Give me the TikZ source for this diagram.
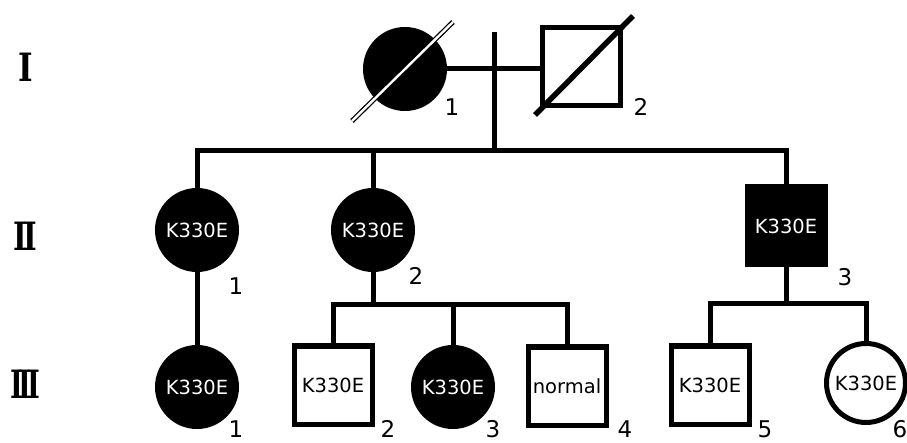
\documentclass[tikz,border=0pt]{standalone}
\usepackage{fontspec}
\newfontfamily\lab{DejaVu Sans}
\newfontfamily\genfont{DejaVu Serif}
\begin{document}
\begin{tikzpicture}[x=1pt,y=-1pt,
  lw/.style={line width=5pt},
  person/.style={lw,draw=black,inner sep=0pt,font=\lab\fontsize{19.5}{19.5}\selectfont},
  female/.style={person,circle,minimum size=79pt},
  male/.style={person,rectangle,minimum size=78pt},
  affected/.style={fill=black,text=white},
  idnum/.style={font=\lab\fontsize{23}{23}\selectfont,inner sep=0pt},
  gen/.style={font=\genfont\bfseries\fontsize{39}{39}\selectfont,inner sep=0pt},
  conn/.style={lw,line join=miter}]
\useasboundingbox (0,0) rectangle (907,443);

% generation labels
\node[gen] (gI) at (26,67) {\scalebox{0.8}[1]{I}};
\node[gen] (gII) at (25,236) {\scalebox{0.75}[1]{I\kern-5pt I}};
\node[gen] (gIII) at (25,384) {\scalebox{0.7}[1]{I\kern-6pt I\kern-6pt I}};

% generation I
\node[female,affected] (I1) at (405,69) {};
\node[male] (I2) at (581,67) {};
\draw[line width=1.3pt,double=white,double distance=2.4pt] (352,121) -- (453,22);
\draw[line width=5.5pt] (535,115) -- (633,16);
\node[idnum] (nI1) at (452,107) {1};
\node[idnum] (nI2) at (641,107) {2};

% generation II
\node[female,affected] (II1) at (197,230) {K330E};
\node[female,affected] (II2) at (373,230) {K330E};
\node[male,affected] (II3) at (786,226) {K330E};
\node[idnum] (nII1) at (236,286) {1};
\node[idnum] (nII2) at (416,276) {2};
\node[idnum] (nII3) at (845,277) {3};

% generation III
\node[female,affected] (III1) at (197,387) {K330E};
\node[male] (III2) at (333,385) {K330E};
\node[female,affected] (III3) at (453,387) {K330E};
\node[male] (III4) at (567,386) {normal};
\node[male] (III5) at (710,385) {K330E};
\node[female] (III6) at (866,383) {K330E};
\node[idnum] (nIII1) at (236,429) {1};
\node[idnum] (nIII2) at (388,429) {2};
\node[idnum] (nIII3) at (493,429) {3};
\node[idnum] (nIII4) at (625,429) {4};
\node[idnum] (nIII5) at (765,429) {5};
\node[idnum] (nIII6) at (900,429) {6};

% marriage and descent lines
\coordinate (mtop) at (494,32);
\coordinate (sibII) at (494,151);
\coordinate (sibA) at (373,305);
\coordinate (sibB) at (786,304);
\draw[conn] (I1.east) -- (I2.west |- I1.east);
\draw[conn] (mtop) -- (sibII);
\draw[conn] (II1.north) |- (sibII) -| (II3.north);
\draw[conn] (II2.north) -- (II2.north |- sibII);
\draw[conn] (II1.south) -- (III1.north);
\draw[conn] (II2.south) -- (sibA);
\draw[conn] (III2.north) |- (sibA) -| (III4.north);
\draw[conn] (III3.north) -- (III3.north |- sibA);
\draw[conn] (II3.south) -- (sibB);
\draw[conn] (III5.north) |- (sibB) -| (III6.north);
\end{tikzpicture}
\end{document}
